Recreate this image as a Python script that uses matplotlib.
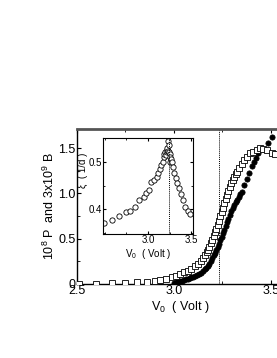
import matplotlib
matplotlib.use("Agg")
import matplotlib.pyplot as plt
from matplotlib.ticker import MultipleLocator

plt.rcParams["font.family"] = ["Liberation Sans", "DejaVu Sans"]
plt.rcParams["mathtext.fontset"] = "custom"
plt.rcParams["mathtext.rm"] = "Liberation Sans"
plt.rcParams["mathtext.it"] = "Liberation Sans"

# main panel: open squares (3x10^9 B) and filled circles (10^8 P)
sq_v = [2.51, 2.60, 2.68, 2.75, 2.81, 2.86, 2.90, 2.93, 2.96, 2.99, 3.01, 3.03,
        3.05, 3.07, 3.09, 3.108, 3.125, 3.139, 3.151, 3.160, 3.168, 3.176, 3.183,
        3.190, 3.197, 3.204, 3.211, 3.218, 3.225, 3.232, 3.239, 3.246, 3.253,
        3.260, 3.267, 3.274, 3.281, 3.288, 3.295, 3.302, 3.310, 3.318, 3.326,
        3.337, 3.349, 3.362, 3.378, 3.392, 3.409, 3.426, 3.443, 3.460, 3.478,
        3.503, 3.522]
sq_y = [0.0, 0.005, 0.01, 0.015, 0.02, 0.025, 0.03, 0.042, 0.057, 0.072, 0.093,
        0.112, 0.13, 0.148, 0.17, 0.196, 0.225, 0.25, 0.288, 0.32, 0.35, 0.38,
        0.41, 0.45, 0.49, 0.53, 0.57, 0.61, 0.655, 0.70, 0.745, 0.79, 0.84, 0.89,
        0.94, 0.985, 1.03, 1.07, 1.11, 1.148, 1.18, 1.21, 1.24, 1.284, 1.32,
        1.368, 1.404, 1.44, 1.46, 1.478, 1.497, 1.49, 1.478, 1.44, 1.43]

ci_v = [3.000, 3.010, 3.020, 3.030, 3.040, 3.050, 3.060, 3.070, 3.080, 3.090,
        3.100, 3.110, 3.120, 3.130, 3.140, 3.150, 3.158, 3.166, 3.174, 3.182,
        3.190, 3.197, 3.204, 3.211, 3.218, 3.225, 3.232, 3.239, 3.246, 3.253,
        3.260, 3.267, 3.274, 3.281, 3.288, 3.295, 3.302, 3.310, 3.318, 3.326,
        3.334, 3.342, 3.350, 3.362, 3.375, 3.388, 3.400, 3.412, 3.423, 3.435,
        3.457, 3.486, 3.505]
ci_y = [0.015, 0.02, 0.025, 0.03, 0.037, 0.044, 0.05, 0.057, 0.065, 0.073,
        0.082, 0.092, 0.10, 0.11, 0.122, 0.14, 0.16, 0.18, 0.2, 0.225, 0.255,
        0.285, 0.315, 0.345, 0.375, 0.405, 0.44, 0.48, 0.52, 0.56, 0.6, 0.64,
        0.68, 0.72, 0.76, 0.80, 0.84, 0.87, 0.9, 0.93, 0.96, 0.99, 1.02, 1.09,
        1.16, 1.23, 1.30, 1.35, 1.39, 1.44, 1.49, 1.56, 1.62]

# inset: correlation length xi vs V0
xi_v = [2.49, 2.58, 2.66, 2.74, 2.79, 2.85, 2.90, 2.95, 2.98, 3.01, 3.04, 3.07,
        3.10, 3.12, 3.14, 3.155, 3.17, 3.18, 3.19, 3.20, 3.21, 3.215, 3.22,
        3.225, 3.23, 3.235, 3.24, 3.245, 3.25, 3.255, 3.26, 3.27, 3.28, 3.29,
        3.30, 3.32, 3.34, 3.36, 3.38, 3.40, 3.43, 3.46, 3.49]
xi_y = [0.371, 0.378, 0.385, 0.394, 0.397, 0.404, 0.42, 0.425, 0.435, 0.441,
        0.458, 0.462, 0.467, 0.476, 0.484, 0.493, 0.50, 0.51, 0.517, 0.521,
        0.515, 0.52, 0.525, 0.53, 0.522, 0.544, 0.535, 0.52, 0.517, 0.51, 0.50,
        0.505, 0.50, 0.49, 0.476, 0.465, 0.455, 0.444, 0.432, 0.42, 0.404,
        0.397, 0.39]

V_CRIT_MAIN = 3.23
V_CRIT_INSET = 3.24

fig = plt.figure(figsize=(2.77, 3.58), dpi=100)

ax = fig.add_axes([77 / 277, 74 / 358, 206 / 277, 155 / 358])
ax.plot(sq_v, sq_y, ls="none", marker="s", ms=3.8, mfc="white", mec="black",
        mew=0.6, zorder=3)
ax.plot(ci_v, ci_y, ls="none", marker="o", ms=3.8, mfc="black", mec="black",
        mew=0.5, zorder=2)
ax.axvline(V_CRIT_MAIN, color="black", lw=0.7, ls=(0, (1, 1)), zorder=1)
ax.set_xlim(2.5, 3.562)
ax.set_ylim(0, 1.71)
ax.xaxis.set_major_locator(MultipleLocator(0.5))
ax.xaxis.set_minor_locator(MultipleLocator(0.25))
ax.yaxis.set_minor_locator(MultipleLocator(0.25))
ax.set_yticks([0, 0.5, 1.0, 1.5])
ax.set_yticklabels(["0", "0.5", "1.0", "1.5"])
ax.tick_params(which="both", direction="in", top=True, right=True,
               labelsize=9, pad=1)
ax.tick_params(which="major", length=3)
ax.tick_params(which="minor", length=2)
for s in ax.spines.values():
    s.set_linewidth(1.0)
ax.spines["top"].set_color("#555555")
ax.spines["top"].set_linewidth(2.0)
ax.set_xlabel("V$_0$  ( Volt )", fontsize=9, labelpad=1)
ax.set_ylabel("10$^8$ P  and 3x10$^9$ B", fontsize=9, labelpad=1)

ins = fig.add_axes([103 / 277, 124 / 358, 90 / 277, 96 / 358])
ins.plot(xi_v, xi_y, ls="none", marker="o", ms=3.8, mfc="white",
         mec="black", mew=0.6)
ins.axvline(V_CRIT_INSET, color="black", lw=0.7, ls=(0, (1, 1)))
ins.set_xlim(2.48, 3.52)
ins.set_ylim(0.348, 0.55)
ins.set_xticks([3.0, 3.5])
ins.set_yticks([0.4, 0.5])
ins.xaxis.set_minor_locator(MultipleLocator(0.25))
ins.yaxis.set_minor_locator(MultipleLocator(0.05))
ins.tick_params(which="both", direction="in", top=True, right=True,
                labelsize=7, pad=1)
ins.tick_params(which="major", length=2.5)
ins.tick_params(which="minor", length=1.5)
for s in ins.spines.values():
    s.set_linewidth(0.8)
ins.set_xlabel("V$_0$  ( Volt )", fontsize=7, labelpad=1)
ins.set_ylabel("ξ  ( 1/d )", fontsize=7)
ins.yaxis.set_label_coords(-0.17, 0.66)

fig.savefig("out.png", dpi=100)
